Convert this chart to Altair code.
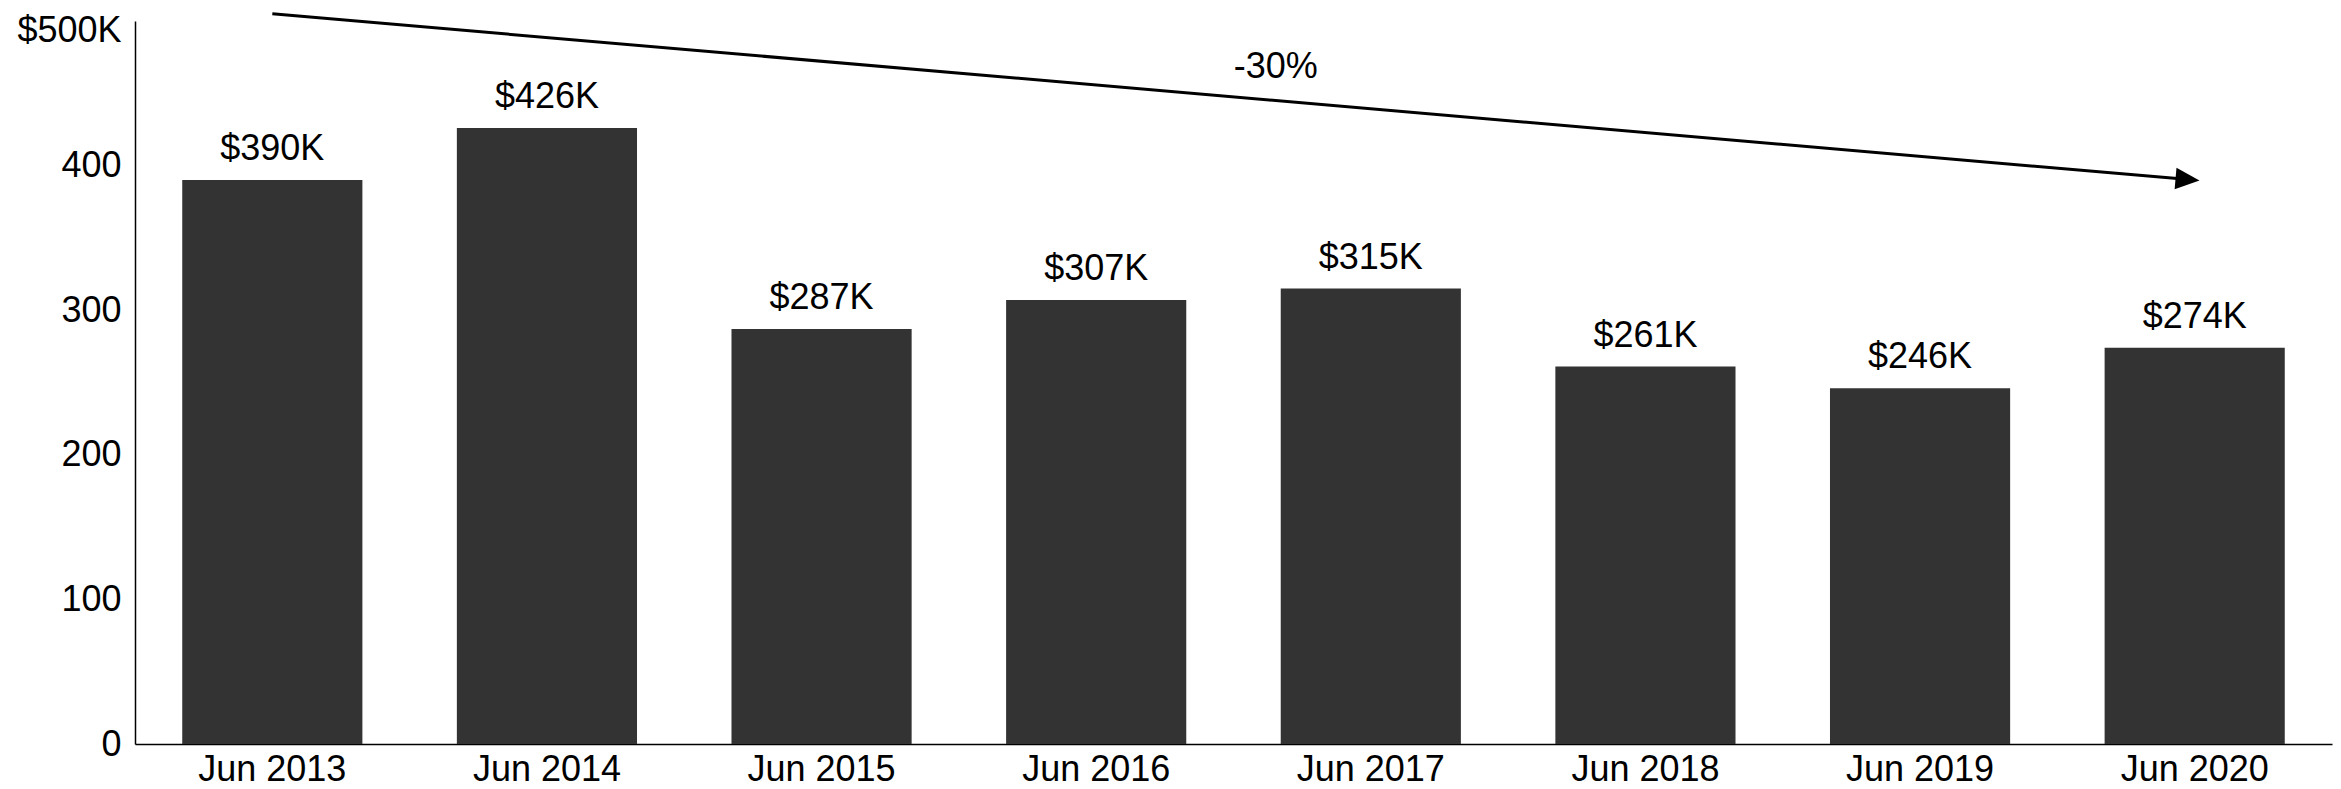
import altair as alt
import pandas as pd

categories = ["Jun 2013", "Jun 2014", "Jun 2015", "Jun 2016",
              "Jun 2017", "Jun 2018", "Jun 2019", "Jun 2020"]
values = [390, 426, 287, 307, 315, 261, 246, 274]
value_labels = ["$390K", "$426K", "$287K", "$307K", "$315K", "$261K", "$246K", "$274K"]
y_ticks = [0, 100, 200, 300, 400, 500]

arrow_from = ["Jun 2013", 505]
arrow_to = ["Jun 2020", 390]
change_text = ["-30%"]
change_anchor = ["Jun 2017", 468]

FONT = "Liberation Sans"
FS = 36

df = pd.DataFrame({"period": categories, "value": values, "label": value_labels})
df_arrow = pd.DataFrame({"period": [arrow_from[0]], "period2": [arrow_to[0]],
                         "value": [arrow_from[1]], "value2": [arrow_to[1]]})
df_head = pd.DataFrame({"period": [arrow_to[0]], "value": [arrow_to[1]]})
df_note = pd.DataFrame({"period": [change_anchor[0]], "value": [change_anchor[1]],
                        "label": change_text})

x_scale = alt.Scale(domain=categories, paddingInner=0.344, paddingOuter=0.172)
y_scale = alt.Scale(domain=[0, 500], nice=False, zero=True)

x_enc = alt.X("period:N", title=None, scale=x_scale,
              axis=alt.Axis(labelAngle=0, labelPadding=8))
y_enc = alt.Y("value:Q", title=None, scale=y_scale,
              axis=alt.Axis(values=y_ticks, labelPadding=14,
                            labelOffset={"condition": {"test": "datum.value == 500", "value": 9},
                                         "value": 0},
                            labelExpr="datum.value == 500 ? '$500K' : datum.label"))

xs = alt.X("period:N", title=None, scale=x_scale)
ys = alt.Y("value:Q", title=None, scale=y_scale)

bars = alt.Chart(df).mark_bar(color="#333333").encode(x=x_enc, y=y_enc)

bar_text = alt.Chart(df).mark_text(
    baseline="bottom", dy=-12, fontSize=FS, font=FONT, color="black"
).encode(x=xs, y=ys, text="label:N")

arrow = alt.Chart(df_arrow).mark_rule(strokeWidth=3, color="black").encode(
    x=xs, x2="period2:N", y=ys, y2="value2:Q")

head = alt.Chart(df_head).mark_point(
    shape="M-1.6,-0.9L0.4,0L-1.6,0.9Z", size=576, filled=True, color="black",
    opacity=1, strokeWidth=0, angle=5
).encode(x=xs, y=ys)

note = alt.Chart(df_note).mark_text(
    baseline="middle", align="center", dx=-95, fontSize=FS, font=FONT, color="black"
).encode(x=xs, y=ys, text="label:N")

chart = alt.layer(bars, bar_text, arrow, head, note).properties(
    width=2197, height=723,
    autosize=alt.AutoSizeParams(type="none"),
    padding={"left": 127, "top": 13, "right": 1, "bottom": 44},
).configure_axis(
    labelFont=FONT, labelFontSize=FS, labelColor="black",
    domainColor="black", domainWidth=1.5, grid=False, ticks=False,
).configure_view(stroke=None)

chart.save("out.html", embed_options={"renderer": "svg", "actions": False})
